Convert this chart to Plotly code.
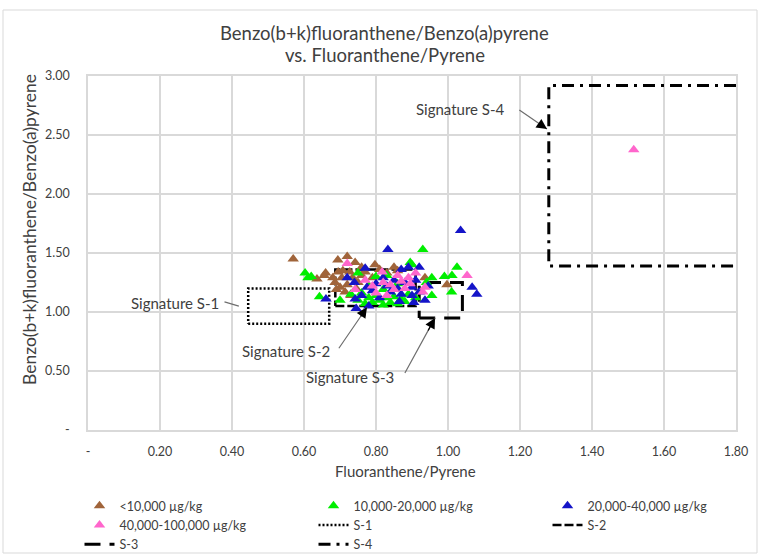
import plotly.graph_objects as go

# Fluoranthene/Pyrene (x) vs Benzo(b+k)fluoranthene/Benzo(a)pyrene (y), grouped by total PAH
lt10k_x = [0.57, 0.636, 0.656, 0.66, 0.694, 0.72, 0.742, 0.695, 0.708, 0.727, 0.686, 0.70,
           0.714, 0.69, 0.72, 0.75, 0.735, 0.76, 0.79, 0.797, 0.85, 0.81, 0.936, 0.997,
           0.68, 0.705, 0.745, 0.77, 0.73, 0.76, 0.83, 0.86]
lt10k_y = [1.45, 1.28, 1.31, 1.33, 1.44, 1.47, 1.42, 1.34, 1.35, 1.34, 1.25, 1.21,
           1.17, 1.19, 1.23, 1.25, 1.29, 1.31, 1.29, 1.40, 1.38, 1.36, 1.29, 1.23,
           1.29, 1.29, 1.20, 1.34, 1.14, 1.38, 1.33, 1.35]

k10_20_x = [0.603, 0.611, 0.62, 0.643, 0.70, 0.75, 0.80, 0.83, 0.895, 0.90, 0.93, 0.955,
            0.99, 1.01, 1.025, 1.011, 0.73, 0.75, 0.76, 0.77, 0.78, 0.79, 0.80, 0.81,
            0.82, 0.83, 0.84, 0.85, 0.86, 0.87, 0.88, 0.89, 0.91, 0.78, 0.82, 0.86,
            0.94, 0.955]
k10_20_y = [1.33, 1.29, 1.30, 1.13, 1.10, 1.33, 1.30, 1.31, 1.42, 1.40, 1.53, 1.29,
            1.30, 1.17, 1.38, 1.31, 1.15, 1.10, 1.16, 1.07, 1.12, 1.08, 1.14, 1.10,
            1.06, 1.12, 1.08, 1.13, 1.07, 1.11, 1.09, 1.15, 1.12, 1.22, 1.19, 1.24,
            1.25, 1.14]

k20_40_x = [0.661, 0.72, 0.77, 0.833, 0.87, 0.89, 0.92, 0.90, 0.90, 0.936, 0.745, 0.74,
            0.742, 1.035, 1.067, 1.08, 0.76, 0.78, 0.79, 0.80, 0.81, 0.83, 0.84, 0.85,
            0.86, 0.87, 0.88, 0.91, 0.92, 0.945, 0.82, 0.775, 0.905, 0.865]
k20_40_y = [1.11, 1.29, 1.37, 1.53, 1.36, 1.38, 1.38, 1.21, 1.14, 1.10, 1.03, 1.25,
            1.11, 1.69, 1.21, 1.15, 1.14, 1.05, 1.18, 1.24, 1.12, 1.22, 1.17, 1.27,
            1.20, 1.15, 1.25, 1.27, 1.17, 1.22, 1.29, 1.21, 1.08, 1.09]

k40_100_x = [0.72, 0.742, 0.817, 0.82, 0.86, 0.91, 0.936, 0.93, 1.053, 1.516, 0.79, 0.80,
             0.84, 0.85, 0.87, 0.88, 0.89, 0.83, 0.77, 0.895]
k40_100_y = [1.41, 1.19, 1.34, 1.25, 1.31, 1.33, 1.21, 1.17, 1.31, 2.375, 1.22, 1.16,
             1.23, 1.19, 1.26, 1.20, 1.29, 1.14, 1.27, 1.24]

# Source signature ranges (x range, y range)
sig_s1 = {"x": [0.445, 0.67], "y": [0.90, 1.20]}
sig_s2 = {"x": [0.687, 0.91], "y": [1.05, 1.36]}
sig_s3 = {"x": [0.92, 1.04], "y": [0.95, 1.25]}
sig_s4 = {"x": [1.28, 1.80], "y": [1.39, 2.92]}

x_ticks = [0, 0.2, 0.4, 0.6, 0.8, 1.0, 1.2, 1.4, 1.6, 1.8]
x_ticktext = ["-", "0.20", "0.40", "0.60", "0.80", "1.00", "1.20", "1.40", "1.60", "1.80"]
y_ticks = [0, 0.5, 1.0, 1.5, 2.0, 2.5, 3.0]
y_ticktext = ["-", "0.50", "1.00", "1.50", "2.00", "2.50", "3.00"]

FONT = "Lato"
TXT = "#404040"


def closed_box(sig):
    x0, x1 = sig["x"]
    y0, y1 = sig["y"]
    return [x0, x1, x1, x0, x0], [y0, y0, y1, y1, y0]


def open_box(sig):
    x0, x1 = sig["x"]
    y0, y1 = sig["y"]
    return [x1, x0, x0, x1], [y1, y1, y0, y0]


fig = go.Figure()

# signature outlines (drawn beneath the sample markers)
boxes = [
    ("S-1", closed_box(sig_s1), "2px,2px", 2.5, 5),
    ("S-2", closed_box(sig_s2), "9px,3px", 2.5, 6),
    ("S-3", closed_box(sig_s3), "16px,9px", 3, 7),
    ("S-4", open_box(sig_s4), "12px,6px,3px,6px", 3, 8),
]
for name, (bx, by), dash, w, rank in boxes:
    fig.add_trace(go.Scatter(x=bx, y=by, mode="lines", name=name, legendrank=rank,
                             line=dict(color="black", width=w, dash=dash),
                             hoverinfo="skip"))

groups = [
    ("<10,000 µg/kg", lt10k_x, lt10k_y, "#A0643A", 1),
    ("10,000-20,000 µg/kg", k10_20_x, k10_20_y, "#00EE00", 2),
    ("20,000-40,000 µg/kg", k20_40_x, k20_40_y, "#1414C8", 3),
    ("40,000-100,000 µg/kg", k40_100_x, k40_100_y, "#FF66CC", 4),
]
for name, gx, gy, col, rank in groups:
    fig.add_trace(go.Scatter(x=gx, y=gy, mode="markers", name=name, legendrank=rank,
                             marker=dict(symbol="triangle-up", size=10, color=col,
                                         line=dict(width=0))))

# signature callouts: label text, arrow tail, arrow tip (data coordinates)
callouts = [
    ("Signature S-1", (0.242, 1.08), (0.375, 1.09), (0.419, 1.05)),
    ("Signature S-2", (0.55, 0.67), (0.694, 0.68), (0.775, 1.04)),
    ("Signature S-3", (0.728, 0.45), (0.878, 0.47), (0.964, 0.95)),
    ("Signature S-4", (1.036, 2.72), (1.194, 2.72), (1.275, 2.55)),
]
for label, (tx, ty), (ax, ay), (hx, hy) in callouts:
    fig.add_annotation(x=tx, y=ty, text=label, showarrow=False,
                       font=dict(family=FONT, size=15, color=TXT))
    fig.add_annotation(x=hx, y=hy, ax=ax, ay=ay, axref="x", ayref="y", text="",
                       showarrow=True, arrowhead=0, arrowwidth=1.2, arrowcolor="#6e6e6e")
    fig.add_annotation(x=hx, y=hy, ax=hx - (hx - ax) * 0.25, ay=hy - (hy - ay) * 0.25,
                       axref="x", ayref="y", text="", showarrow=True, arrowhead=2,
                       arrowsize=1.6, arrowwidth=1.3, arrowcolor="black")

# chart title (two lines)
fig.add_annotation(xref="paper", yref="paper", x=0.458, y=1.1215, xanchor="center",
                   yanchor="middle", text="Benzo(b+k)fluoranthene/Benzo(a)pyrene",
                   showarrow=False, font=dict(family=FONT, size=18.5, color=TXT))
fig.add_annotation(xref="paper", yref="paper", x=0.458, y=1.0593, xanchor="center",
                   yanchor="middle", text="vs. Fluoranthene/Pyrene",
                   showarrow=False, font=dict(family=FONT, size=18.5, color=TXT))
# axis titles
fig.add_annotation(xref="paper", yref="paper", x=-0.0895, y=0.565, textangle=-90,
                   xanchor="center", yanchor="middle",
                   text="Benzo(b+k)fluoranthene/Benzo(a)pyrene", showarrow=False,
                   font=dict(family=FONT, size=17.5, color=TXT))
fig.add_annotation(xref="paper", yref="paper", x=0.49, y=-0.116, xanchor="center",
                   yanchor="middle", text="Fluoranthene/Pyrene", showarrow=False,
                   font=dict(family=FONT, size=15, color=TXT))

# outer chart-area frame
fig.add_shape(type="rect", xref="paper", yref="paper",
              x0=(3 - 88) / 648, x1=(757 - 88) / 648,
              y0=(430 - 553) / 354, y1=(430 - 10) / 354,
              line=dict(color="#d9d9d9", width=1), layer="below")

grid = "#d9d9d9"
fig.update_xaxes(range=[0, 1.8], tickvals=x_ticks, ticktext=x_ticktext,
                 showgrid=True, gridcolor=grid, gridwidth=1.5, zeroline=False,
                 showline=True, mirror=True, linecolor=grid, linewidth=1.5,
                 ticks="", ticklabelstandoff=9,
                 tickfont=dict(family=FONT, size=12.5, color=TXT))
fig.update_yaxes(range=[0, 3], tickvals=y_ticks, ticktext=y_ticktext,
                 showgrid=True, gridcolor=grid, gridwidth=1.5, zeroline=False,
                 showline=True, mirror=True, linecolor=grid, linewidth=1.5,
                 ticks="", ticklabelstandoff=14,
                 tickfont=dict(family=FONT, size=12.5, color=TXT))

fig.update_layout(
    width=761, height=557,
    margin=dict(l=88, r=25, t=76, b=127, autoexpand=False),
    paper_bgcolor="white", plot_bgcolor="white",
    showlegend=True,
    legend=dict(orientation="h", xref="paper", yref="paper",
                x=(79.5 - 88) / 648, y=(430 - 491) / 354, xanchor="left", yanchor="top",
                entrywidth=189, entrywidthmode="pixels",
                font=dict(family=FONT, size=12.5, color=TXT),
                bgcolor="rgba(0,0,0,0)", itemclick=False),
)

fig.write_html("out.html")
